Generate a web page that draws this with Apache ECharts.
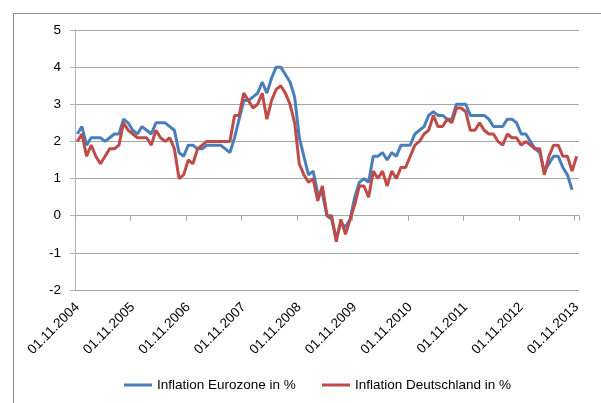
<!DOCTYPE html>
<html>
<head>
<meta charset="utf-8">
<script src="https://cdn.jsdelivr.net/npm/echarts@6/dist/echarts.min.js"></script>
<style>html,body{margin:0;padding:0;background:#fff;}#c{width:601px;height:403px;}</style>
</head>
<body>
<div id="c"></div>
<script>
const categories = [
'01.11.2004','01.12.2004',
'01.01.2005','01.02.2005','01.03.2005','01.04.2005','01.05.2005','01.06.2005','01.07.2005','01.08.2005','01.09.2005','01.10.2005','01.11.2005','01.12.2005',
'01.01.2006','01.02.2006','01.03.2006','01.04.2006','01.05.2006','01.06.2006','01.07.2006','01.08.2006','01.09.2006','01.10.2006','01.11.2006','01.12.2006',
'01.01.2007','01.02.2007','01.03.2007','01.04.2007','01.05.2007','01.06.2007','01.07.2007','01.08.2007','01.09.2007','01.10.2007','01.11.2007','01.12.2007',
'01.01.2008','01.02.2008','01.03.2008','01.04.2008','01.05.2008','01.06.2008','01.07.2008','01.08.2008','01.09.2008','01.10.2008','01.11.2008','01.12.2008',
'01.01.2009','01.02.2009','01.03.2009','01.04.2009','01.05.2009','01.06.2009','01.07.2009','01.08.2009','01.09.2009','01.10.2009','01.11.2009','01.12.2009',
'01.01.2010','01.02.2010','01.03.2010','01.04.2010','01.05.2010','01.06.2010','01.07.2010','01.08.2010','01.09.2010','01.10.2010','01.11.2010','01.12.2010',
'01.01.2011','01.02.2011','01.03.2011','01.04.2011','01.05.2011','01.06.2011','01.07.2011','01.08.2011','01.09.2011','01.10.2011','01.11.2011','01.12.2011',
'01.01.2012','01.02.2012','01.03.2012','01.04.2012','01.05.2012','01.06.2012','01.07.2012','01.08.2012','01.09.2012','01.10.2012','01.11.2012','01.12.2012',
'01.01.2013','01.02.2013','01.03.2013','01.04.2013','01.05.2013','01.06.2013','01.07.2013','01.08.2013','01.09.2013','01.10.2013','01.11.2013'
];

const eurozone = [
2.2, 2.4,
1.9, 2.1, 2.1, 2.1, 2.0, 2.1, 2.2, 2.2, 2.6, 2.5, 2.3, 2.2,
2.4, 2.3, 2.2, 2.5, 2.5, 2.5, 2.4, 2.3, 1.7, 1.6, 1.9, 1.9,
1.8, 1.8, 1.9, 1.9, 1.9, 1.9, 1.8, 1.7, 2.1, 2.6, 3.1, 3.1,
3.2, 3.3, 3.6, 3.3, 3.7, 4.0, 4.0, 3.8, 3.6, 3.2, 2.1, 1.6,
1.1, 1.2, 0.6, 0.6, 0.0, -0.1, -0.6, -0.2, -0.3, -0.1, 0.5, 0.9,
1.0, 0.9, 1.6, 1.6, 1.7, 1.5, 1.7, 1.6, 1.9, 1.9, 1.9, 2.2,
2.3, 2.4, 2.7, 2.8, 2.7, 2.7, 2.6, 2.6, 3.0, 3.0, 3.0, 2.7,
2.7, 2.7, 2.7, 2.6, 2.4, 2.4, 2.4, 2.6, 2.6, 2.5, 2.2, 2.2,
2.0, 1.8, 1.7, 1.2, 1.4, 1.6, 1.6, 1.3, 1.1, 0.7, null
];

const deutschland = [
2.0, 2.2,
1.6, 1.9, 1.6, 1.4, 1.6, 1.8, 1.8, 1.9, 2.5, 2.3, 2.2, 2.1,
2.1, 2.1, 1.9, 2.3, 2.1, 2.0, 2.1, 1.8, 1.0, 1.1, 1.5, 1.4,
1.8, 1.9, 2.0, 2.0, 2.0, 2.0, 2.0, 2.0, 2.7, 2.7, 3.3, 3.1,
2.9, 3.0, 3.3, 2.6, 3.1, 3.4, 3.5, 3.3, 3.0, 2.5, 1.4, 1.1,
0.9, 1.0, 0.4, 0.8, 0.0, 0.0, -0.7, -0.1, -0.5, -0.1, 0.3, 0.8,
0.8, 0.5, 1.2, 1.0, 1.2, 0.8, 1.2, 1.0, 1.3, 1.3, 1.6, 1.9,
2.0, 2.2, 2.3, 2.7, 2.4, 2.4, 2.6, 2.5, 2.9, 2.9, 2.8, 2.3,
2.3, 2.5, 2.3, 2.2, 2.2, 2.0, 1.9, 2.2, 2.1, 2.1, 1.9, 2.0,
1.9, 1.8, 1.8, 1.1, 1.6, 1.9, 1.9, 1.6, 1.6, 1.2, 1.6
];

const yTicks = { min: -2, max: 5, interval: 1 };
const seriesNames = ['Inflation Eurozone in %', 'Inflation Deutschland in %'];

const font = 'Liberation Sans';
const chart = echarts.init(document.getElementById('c'), null, { renderer: 'canvas' });
const legendText = { fontFamily: font, fontSize: 13.5, color: '#000' };
chart.setOption({
  animation: false,
  backgroundColor: '#ffffff',
  graphic: [{
    type: 'rect', silent: true,
    shape: { x: 13.5, y: 13.5, width: 700, height: 500 },
    style: { fill: 'none', stroke: '#8c8c8c', lineWidth: 1 }
  }],
  grid: { left: 75, right: 22, top: 30, bottom: 113, containLabel: false },
  legend: [
    { data: [{ name: seriesNames[0], icon: 'rect' }], left: 119, top: 373, itemWidth: 28, itemHeight: 3,
      itemGap: 5, textStyle: legendText },
    { data: [{ name: seriesNames[1], icon: 'rect' }], left: 317, top: 373, itemWidth: 28, itemHeight: 3,
      itemGap: 5, textStyle: legendText }
  ],
  xAxis: [{
    type: 'category', data: categories, boundaryGap: true, position: 'bottom',
    axisLine: { show: false, onZero: false }, axisTick: { show: false },
    splitLine: { show: false },
    axisLabel: { interval: 11, rotate: 45, margin: 15, fontFamily: font, fontSize: 13.5, color: '#000' }
  }, {
    type: 'category', data: categories, boundaryGap: true, position: 'bottom',
    axisLine: { show: true, onZero: true, lineStyle: { color: '#a6a6a6', width: 1 } },
    axisTick: { show: true, interval: 11, length: 5, lineStyle: { color: '#a6a6a6' } },
    axisLabel: { show: false }, splitLine: { show: false }
  }],
  yAxis: {
    type: 'value', min: yTicks.min, max: yTicks.max, interval: yTicks.interval,
    axisLine: { show: true, lineStyle: { color: '#b4b4b4', width: 1 } },
    axisTick: { show: true, length: 5, lineStyle: { color: '#b4b4b4' } },
    splitLine: { show: true, lineStyle: { color: '#a6a6a6', width: 1 } },
    axisLabel: { margin: 14, fontFamily: font, fontSize: 13.5, color: '#000' }
  },
  series: [{
    name: seriesNames[0], type: 'line', data: eurozone, xAxisIndex: 0,
    symbol: 'none', showSymbol: false, smooth: false,
    lineStyle: { color: '#4A7EBB', width: 3 }, itemStyle: { color: '#4A7EBB' }
  }, {
    name: seriesNames[1], type: 'line', data: deutschland, xAxisIndex: 0,
    symbol: 'none', showSymbol: false, smooth: false,
    lineStyle: { color: '#BE4B48', width: 3 }, itemStyle: { color: '#BE4B48' }
  }]
});
</script>
</body>
</html>
